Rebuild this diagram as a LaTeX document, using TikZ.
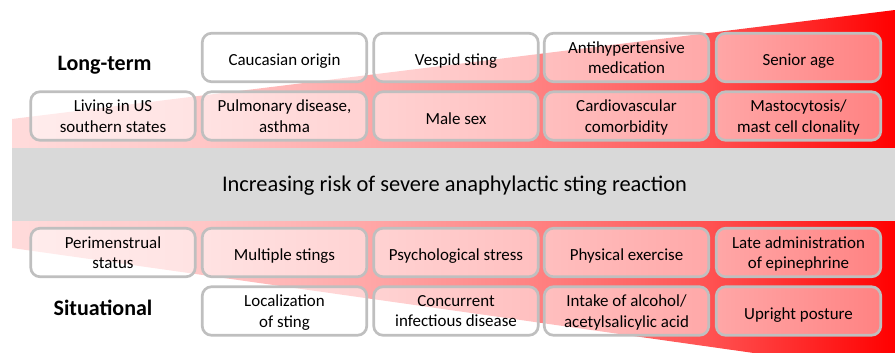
\documentclass[tikz,border=0pt]{standalone}
\usepackage{fontspec}
\setmainfont{Carlito}
\definecolor{boxgray}{RGB}{191,191,191}
\definecolor{bandgray}{RGB}{217,217,217}
\pgfdeclarehorizontalshading{riskshade}{100bp}{rgb(0bp)=(1,.86,.86); rgb(25bp)=(1,.86,.86); rgb(35.5bp)=(1,.78,.78); rgb(45.5bp)=(1,.65,.65); rgb(55bp)=(1,.5,.5); rgb(64.5bp)=(1,.32,.32); rgb(75bp)=(1,0,0); rgb(100bp)=(1,0,0)}
\begin{document}
\begin{tikzpicture}[x=.75pt,y=-.75pt,line join=round]
			\tikzset{factor/.style={draw=boxgray,line width=2pt,rounded corners=7pt,fill=white,fill opacity=.5,text opacity=1,
					minimum width=123.4pt,minimum height=36.4pt,inner sep=1pt,align=center,text depth=-3.5pt,
					font=\fontsize{12.7}{15.5}\selectfont,execute at begin node=\rule{0pt}{12pt}},
				group/.style={font=\fontsize{16.5}{19}\selectfont\bfseries}
			}
			\useasboundingbox (0,0) rectangle (895,353);
			\clip (0,0) rectangle (895,353);
			\shade[shading=riskshade] (12,148)--(12,119)--(895,10)--(895,148)--cycle;
			\shade[shading=riskshade] (12,221)--(12,248)--(895,373)--(895,221)--cycle;
			\fill[bandgray] (12,148) rectangle (895,221);
			\node[font=\fontsize{16.8}{19}\selectfont] (risk) at (454.5,186) {Increasing risk of severe anaphylactic sting reaction};
			\node[group] (longterm) at (104.5,65) {Long-term};
			\node[group] (situational) at (103,308) {Situational};
			\node[factor] (caucasian) at (284.5,57.5) {Caucasian origin};
			\node[factor] (vespid) at (456,57.5) {Vespid sting};
			\node[factor] (antihyp) at (626.5,57.5) {Antihypertensive\\medication};
			\node[factor] (senior) at (798.5,57.5) {Senior age};
			\node[factor] (southern) at (113,116) {Living in US\\southern states};
			\node[factor] (pulmonary) at (284.5,116) {Pulmonary disease,\\asthma};
			\node[factor] (male) at (456,116) {Male sex};
			\node[factor] (cardio) at (626.5,116) {Cardiovascular\\comorbidity};
			\node[factor] (masto) at (798.5,116) {Mastocytosis/\\mast cell clonality};
			\node[factor] (perimen) at (113,252.5) {Perimenstrual\\status};
			\node[factor] (multiple) at (284.5,252.5) {Multiple stings};
			\node[factor] (stress) at (456,252.5) {Psychological stress};
			\node[factor] (exercise) at (626.5,252.5) {Physical exercise};
			\node[factor] (epinephrine) at (798.5,252.5) {Late administration\\of epinephrine};
			\node[factor] (localization) at (284.5,311) {Localization\\of sting};
			\node[factor] (infectious) at (456,311) {Concurrent\\infectious disease};
			\node[factor] (alcohol) at (626.5,311) {Intake of alcohol/\\acetylsalicylic acid};
			\node[factor] (upright) at (798.5,311) {Upright posture};
		\end{tikzpicture}
\end{document}
